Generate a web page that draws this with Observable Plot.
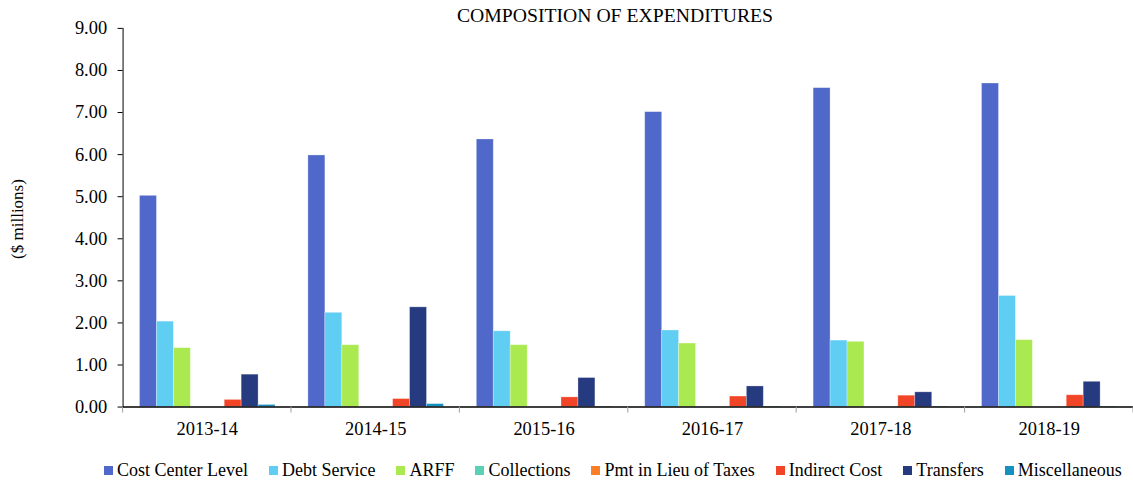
<!DOCTYPE html>
<html>
<head>
<meta charset="utf-8">
<script src="https://cdn.jsdelivr.net/npm/d3@7"></script>
<script src="https://cdn.jsdelivr.net/npm/@observablehq/plot@0.6"></script>
<style>
  html, body { margin: 0; padding: 0; overflow: hidden; background: #fff; }
  #wrap { position: relative; width: 1133px; height: 483px; font-family: "Liberation Serif", "Times New Roman", serif; color: #000; }
  #title { position: absolute; left: 615px; top: 4px; transform: translateX(-50%); white-space: nowrap; font-size: 19.7px; }
  #ylabel { position: absolute; left: 18px; top: 219px; transform: translate(-50%, -50%) rotate(-90deg); white-space: nowrap; font-size: 17px; }
  #legend { position: absolute; left: 104px; top: 460px; display: flex; gap: 21px; font-size: 18px; white-space: nowrap; }
  #legend .item { display: flex; align-items: center; gap: 4px; }
  #legend .sw { width: 9px; height: 9px; display: inline-block; }
  #chart { position: absolute; left: 0; top: 0; }
  g[aria-label="y-axis tick"] { stroke: #a0a0a0; }
</style>
</head>
<body>
<div id="wrap">
  <div id="chart"></div>
  <div id="title">COMPOSITION OF EXPENDITURES</div>
  <div id="ylabel">($ millions)</div>
  <div id="legend"></div>
</div>
<script>
const years = ["2013-14", "2014-15", "2015-16", "2016-17", "2017-18", "2018-19"];
const series = ["Cost Center Level", "Debt Service", "ARFF", "Collections", "Pmt in Lieu of Taxes", "Indirect Cost", "Transfers", "Miscellaneous"];
const colors = ["#4F68C9", "#60CDF3", "#AAEA50", "#5AD0B4", "#FC7F28", "#F24427", "#263A7F", "#1690BF"];

const costCenterLevel = [5.02, 5.98, 6.36, 7.01, 7.58, 7.69];
const debtService     = [2.03, 2.24, 1.80, 1.82, 1.58, 2.64];
const arff            = [1.40, 1.47, 1.47, 1.51, 1.55, 1.59];
const collections     = [0, 0, 0, 0, 0, 0];
const pmtInLieu       = [0, 0, 0, 0, 0, 0];
const indirectCost    = [0.17, 0.19, 0.23, 0.25, 0.27, 0.28];
const transfers       = [0.77, 2.37, 0.69, 0.49, 0.35, 0.60];
const miscellaneous   = [0.05, 0.07, 0.01, 0.01, 0.01, 0.01];

const yTicks = [0, 1, 2, 3, 4, 5, 6, 7, 8, 9];

const seriesValues = [costCenterLevel, debtService, arff, collections, pmtInLieu, indirectCost, transfers, miscellaneous];
const data = [];
years.forEach((yr, i) => {
  series.forEach((s, j) => {
    data.push({year: yr, series: s, value: seriesValues[j][i]});
  });
});

const plot = Plot.plot({
  width: 1137,
  height: 483,
  marginLeft: 123,
  marginRight: 0,
  marginTop: 28,
  marginBottom: 75,
  style: {fontFamily: "'Liberation Serif', 'Times New Roman', serif", fontSize: "18.5px", color: "#000", background: "transparent", overflow: "visible"},
  fx: {domain: years, padding: 0, label: null, axis: "bottom", tickSize: 0, tickPadding: 15},
  x: {domain: series, paddingInner: 0, paddingOuter: 0.73, axis: null},
  y: {domain: [0, 9], ticks: yTicks, tickFormat: d => d.toFixed(2), label: null, tickSize: 5, tickPadding: 11, line: true},
  color: {domain: series, range: colors},
  marks: [
    Plot.barY(data, {fx: "year", x: "series", y: "value", fill: "series", stroke: "white", strokeOpacity: 0.35, strokeWidth: 0.8}),
    Plot.ruleY([0], {stroke: "black", strokeWidth: 1.5})
  ]
});
document.getElementById("chart").appendChild(plot);

// category boundary tick marks derived from the fx scale
const fxs = plot.scale("fx");
const ys = plot.scale("y");
const band = d3.scaleBand().domain(fxs.domain).range(fxs.range).paddingInner(0).paddingOuter(0);
const yScale = d3.scaleLinear().domain(ys.domain).range(ys.range);
const bounds = years.map(y => band(y)).concat([band(years[years.length - 1]) + band.bandwidth()]);
const y0 = yScale(0);
d3.select(plot).append("g")
  .selectAll("line").data(bounds).join("line")
  .attr("x1", d => d).attr("x2", d => d)
  .attr("y1", y0).attr("y2", y0 + 6)
  .attr("stroke", "#a0a0a0").attr("stroke-width", 1);

// legend
const legend = d3.select("#legend");
series.forEach((s, i) => {
  const it = legend.append("div").attr("class", "item");
  it.append("span").attr("class", "sw").style("background", colors[i]);
  it.append("span").text(s);
});
</script>
</body>
</html>
